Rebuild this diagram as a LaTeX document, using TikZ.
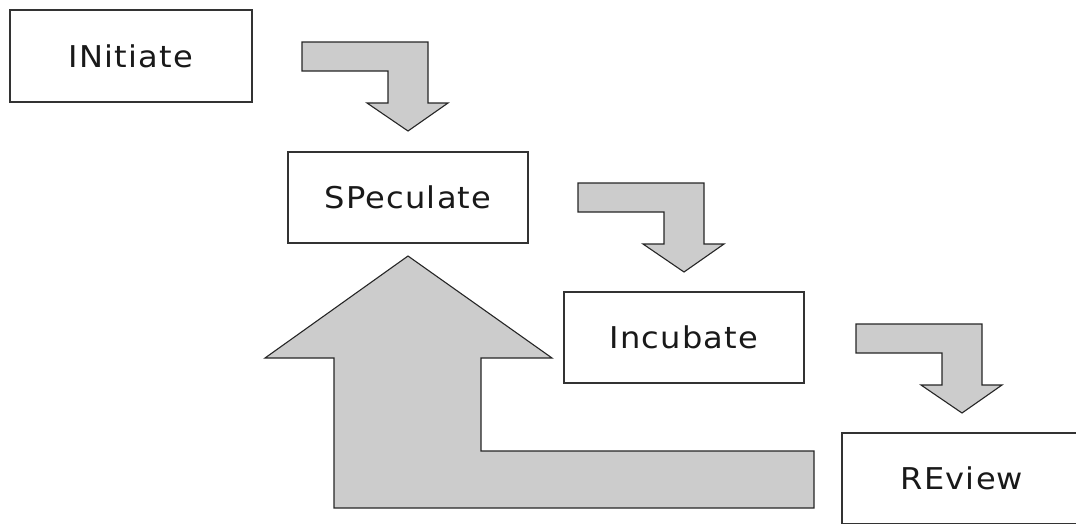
\documentclass[tikz,border=0pt]{standalone}
\usepackage{fontspec}
\setmainfont{DejaVu Sans}[FakeStretch=1.07,LetterSpace=4]
\begin{document}
\begin{tikzpicture}[x=1pt,y=-1pt,
  stagebox/.style={draw=black!80,line width=1.4pt,fill=white,minimum width=240pt,minimum height=91pt,inner sep=0pt,font=\fontsize{30}{34}\selectfont,text=black!90},
  blockarrow/.style={draw=black!85,line width=1.1pt,fill=black!20,line join=miter}]
\useasboundingbox (0,0) rectangle (1076,523);
\clip (0,0) rectangle (1076,523);
\node[stagebox,minimum width=242pt,minimum height=92pt] (init) at (131,56) {INitiate};
\node[stagebox] (spec) at (408,197.5) {SPeculate};
\node[stagebox] (incu) at (684,337.5) {Incubate};
\node[stagebox] (rev) at (962,478.5) {REview};
\foreach \x/\y in {302/42,578/183,856/324}{
  \draw[blockarrow] (\x,\y) -- ++(126,0) -- ++(0,61) -- ++(20,0) -- ++(-40,28) -- ++(-41,-28) -- ++(21,0) -- ++(0,-32) -- ++(-86,0) -- cycle;
}
\draw[blockarrow] (408,256) -- (552,358) -- (481,358) -- (481,451) -- (814,451) -- (814,508) -- (334,508) -- (334,358) -- (265,358) -- cycle;
\end{tikzpicture}
\end{document}
